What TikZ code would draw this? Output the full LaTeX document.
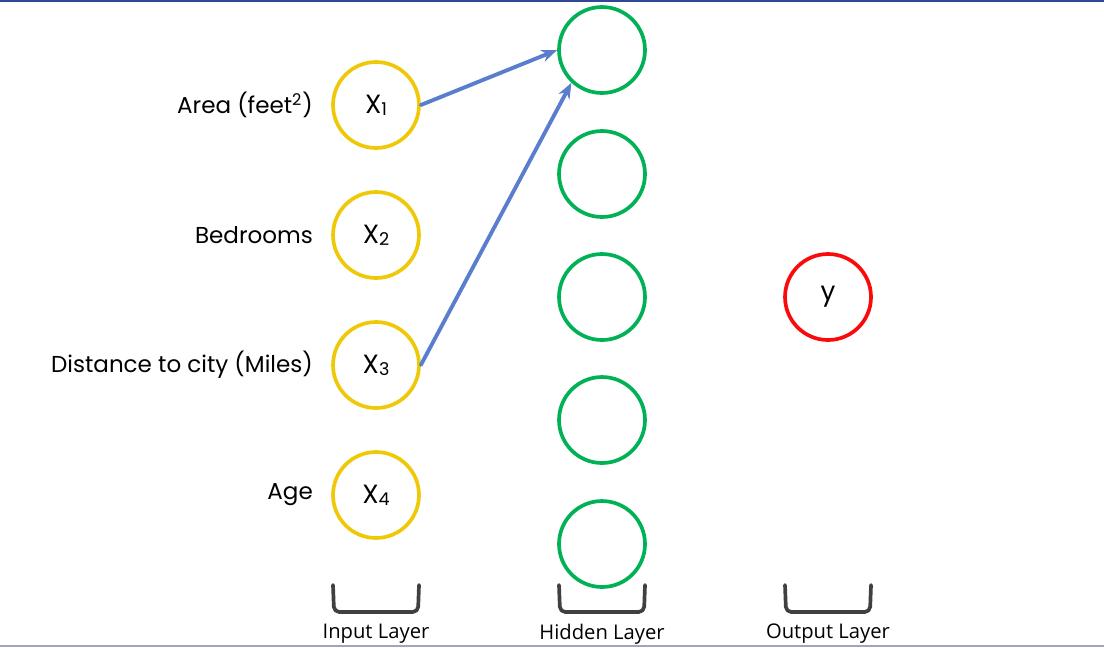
\documentclass[tikz,border=0pt]{standalone}
\usepackage{fontspec}
\setmainfont{Poppins}
\newfontfamily\layerfont{Open Sans}
\usetikzlibrary{positioning}
\definecolor{inyellow}{RGB}{240,200,10}
\definecolor{hidgreen}{RGB}{0,178,85}
\definecolor{outred}{RGB}{250,10,10}
\definecolor{linkblue}{RGB}{90,125,205}
\definecolor{brackgray}{RGB}{64,64,64}
\definecolor{edgeblue}{RGB}{50,70,150}
\tikzset{
  neuron/.style={circle,draw,line width=2.1pt,minimum size=1.72cm,inner sep=0pt,font=\fontsize{15}{18}\selectfont},
  feature/.style={font=\fontsize{13.1}{16}\selectfont,inner sep=0pt},
  layername/.style={font=\layerfont\fontsize{11.5}{13}\selectfont,inner sep=0pt},
  link/.style={-{Stealth[length=9pt,width=7pt]},draw=linkblue,line width=2.2pt},
  bracket/.style={draw=brackgray,line width=2.1pt,rounded corners=3pt}
}
\usetikzlibrary{arrows.meta}
\begin{document}
\begin{tikzpicture}[x=0.02cm,y=-0.02cm,line cap=round,line join=round,>=stealth]
\useasboundingbox (0,0) rectangle (1104,647);
\draw[edgeblue,line width=1.2pt] (0,0.6) -- (1104,0.6);
\draw[edgeblue!40!gray!60,line width=1.2pt] (0,646) -- (1104,646);
% input layer
\foreach \i/\y in {1/105,2/235,3/365,4/495}
  \node[neuron,draw=inyellow] (x\i) at (376,\y) {X\raisebox{-0.15ex}{\fontsize{10}{12}\selectfont\i}};
\node[feature,left=0.36cm of x1] (f1) {Area (feet\textsuperscript{2})};
\node[feature,left=0.36cm of x2] (f2) {Bedrooms};
\node[feature,left=0.36cm of x3] (f3) {Distance to city (Miles)};
\node[feature,left=0.36cm of x4] (f4) {Age};
% hidden layer
\foreach \i/\y in {1/50,2/174,3/297,4/420,5/544}
  \node[neuron,draw=hidgreen] (h\i) at (602,\y) {};
% output layer
\node[neuron,draw=outred] (y) at (828,297) {y};
% links
\draw[link] (x1.east) -- (h1.west);
\draw[link] (x3.east) -- (h1.227);
% brackets
\foreach \c/\name/\txt in {376/lin/Input Layer,602/lhid/Hidden Layer,828/lout/Output Layer}{
  \draw[bracket] (\c-43,585) -- (\c-42,612) -- (\c+42,612) -- (\c+43,585);
  \node[layername] (\name) at (\c,634) {\txt};
}
\end{tikzpicture}
\end{document}
